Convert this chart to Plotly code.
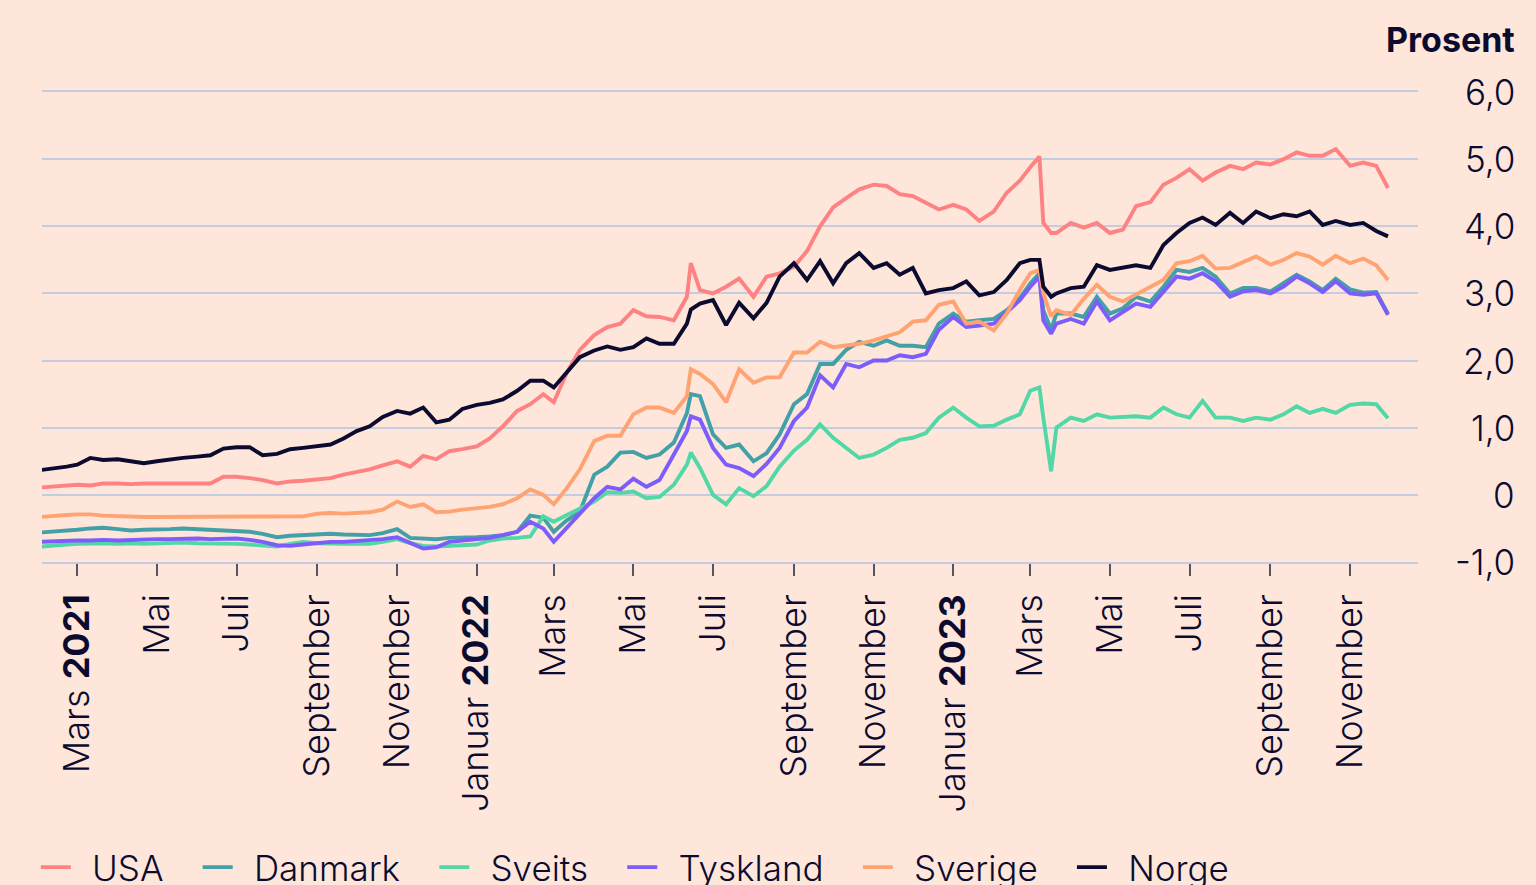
import plotly.graph_objects as go

dates = [
    "2021-02-01", "2021-02-11", "2021-02-21", "2021-03-01", "2021-03-11", "2021-03-21",
    "2021-04-01", "2021-04-11", "2021-04-21", "2021-05-01", "2021-05-11", "2021-05-21",
    "2021-06-01", "2021-06-11", "2021-06-21", "2021-07-01", "2021-07-11", "2021-07-21",
    "2021-08-01", "2021-08-11", "2021-08-21", "2021-09-01", "2021-09-11", "2021-09-21",
    "2021-10-01", "2021-10-11", "2021-10-21", "2021-11-01", "2021-11-11", "2021-11-21",
    "2021-12-01", "2021-12-11", "2021-12-21",
    "2022-01-01", "2022-01-11", "2022-01-21", "2022-02-01", "2022-02-11", "2022-02-21",
    "2022-03-01", "2022-03-11", "2022-03-21", "2022-04-01", "2022-04-11", "2022-04-21",
    "2022-05-01", "2022-05-11", "2022-05-21", "2022-06-01", "2022-06-11", "2022-06-14",
    "2022-06-21", "2022-07-01", "2022-07-11", "2022-07-21", "2022-08-01", "2022-08-11",
    "2022-08-21", "2022-09-01", "2022-09-11", "2022-09-21", "2022-10-01", "2022-10-11",
    "2022-10-21", "2022-11-01", "2022-11-11", "2022-11-21", "2022-12-01", "2022-12-11",
    "2022-12-21",
    "2023-01-01", "2023-01-11", "2023-01-21", "2023-02-01", "2023-02-11", "2023-02-21",
    "2023-03-01", "2023-03-08", "2023-03-11", "2023-03-17", "2023-03-21", "2023-04-01",
    "2023-04-11", "2023-04-21", "2023-05-01", "2023-05-11", "2023-05-21", "2023-06-01",
    "2023-06-11", "2023-06-21", "2023-07-01", "2023-07-11", "2023-07-21", "2023-08-01",
    "2023-08-11", "2023-08-21", "2023-09-01", "2023-09-11", "2023-09-21", "2023-10-01",
    "2023-10-11", "2023-10-21", "2023-11-01", "2023-11-11", "2023-11-21", "2023-11-30",
]

usa = [
    0.11, 0.12, 0.13, 0.15, 0.14, 0.17, 0.17, 0.16, 0.17, 0.17, 0.16, 0.17, 0.16, 0.17, 0.27,
    0.27, 0.25, 0.22, 0.17, 0.20, 0.21, 0.23, 0.25, 0.30, 0.34, 0.38, 0.44, 0.50, 0.42, 0.58,
    0.53, 0.65, 0.68,
    0.72, 0.84, 1.02, 1.25, 1.35, 1.50, 1.38, 1.82, 2.16, 2.38, 2.50, 2.55, 2.75, 2.66, 2.65,
    2.60, 2.95, 3.45, 3.05, 3.00, 3.10, 3.22, 2.95, 3.25, 3.30, 3.40, 3.63, 4.00, 4.28, 4.42,
    4.55, 4.62, 4.60, 4.48, 4.45, 4.35, 4.25,
    4.32, 4.25, 4.08, 4.22, 4.50, 4.68, 4.88, 5.04, 4.05, 3.90, 3.90, 4.05, 3.98, 4.05, 3.90,
    3.95, 4.30, 4.36, 4.62, 4.72, 4.85, 4.68, 4.80, 4.90, 4.85, 4.95, 4.92, 5.00, 5.10, 5.05,
    5.05, 5.15, 4.90, 4.95, 4.90, 4.57,
]

danmark = [
    -0.56, -0.55, -0.53, -0.52, -0.50, -0.49, -0.51, -0.53, -0.52, -0.52, -0.51, -0.50, -0.51,
    -0.52, -0.52, -0.53, -0.55, -0.58, -0.63, -0.61, -0.60, -0.59, -0.58, -0.59, -0.60, -0.60,
    -0.57, -0.51, -0.64, -0.65, -0.66, -0.64, -0.64,
    -0.63, -0.62, -0.60, -0.55, -0.31, -0.34, -0.55, -0.38, -0.25, 0.30, 0.42, 0.63, 0.64,
    0.55, 0.60, 0.78, 1.22, 1.50, 1.47, 0.90, 0.70, 0.75, 0.50, 0.62, 0.90, 1.35, 1.50, 1.95,
    1.95, 2.16, 2.28, 2.22, 2.30, 2.22, 2.22, 2.20, 2.55,
    2.70, 2.58, 2.60, 2.62, 2.75, 2.93, 3.15, 3.30, 2.75, 2.46, 2.70, 2.70, 2.65, 2.95, 2.70,
    2.78, 2.95, 2.88, 3.10, 3.35, 3.32, 3.38, 3.25, 3.00, 3.08, 3.08, 3.03, 3.15, 3.28, 3.18,
    3.05, 3.22, 3.06, 3.01, 3.02, 2.70,
]

sveits = [
    -0.77, -0.75, -0.74, -0.73, -0.72, -0.72, -0.73, -0.72, -0.73, -0.72, -0.72, -0.71, -0.72,
    -0.72, -0.73, -0.73, -0.74, -0.75, -0.77, -0.73, -0.70, -0.72, -0.73, -0.73, -0.73, -0.73,
    -0.70, -0.66, -0.72, -0.76, -0.77, -0.76, -0.76,
    -0.74, -0.68, -0.65, -0.64, -0.62, -0.32, -0.40, -0.30, -0.20, -0.10, 0.04, 0.03, 0.05,
    -0.05, -0.03, 0.15, 0.45, 0.63, 0.40, 0.00, -0.14, 0.10, -0.02, 0.13, 0.42, 0.66, 0.82,
    1.05, 0.85, 0.70, 0.55, 0.60, 0.70, 0.82, 0.85, 0.92, 1.15,
    1.30, 1.15, 1.02, 1.03, 1.12, 1.20, 1.55, 1.60, 1.15, 0.35, 1.00, 1.15, 1.10, 1.20, 1.15,
    1.16, 1.17, 1.15, 1.30, 1.20, 1.15, 1.40, 1.15, 1.15, 1.10, 1.15, 1.12, 1.20, 1.32, 1.22,
    1.28, 1.22, 1.34, 1.36, 1.35, 1.14,
]

tyskland = [
    -0.70, -0.69, -0.69, -0.68, -0.68, -0.67, -0.68, -0.67, -0.67, -0.66, -0.66, -0.65, -0.65,
    -0.66, -0.65, -0.65, -0.67, -0.70, -0.75, -0.76, -0.74, -0.72, -0.70, -0.70, -0.69, -0.68,
    -0.66, -0.63, -0.72, -0.80, -0.78, -0.70, -0.68,
    -0.66, -0.64, -0.60, -0.55, -0.40, -0.50, -0.70, -0.50, -0.28, -0.05, 0.12, 0.08, 0.24,
    0.12, 0.22, 0.60, 0.95, 1.17, 1.12, 0.70, 0.45, 0.40, 0.28, 0.46, 0.70, 1.10, 1.30, 1.78,
    1.60, 1.95, 1.90, 2.00, 2.00, 2.08, 2.05, 2.10, 2.46,
    2.65, 2.50, 2.52, 2.55, 2.72, 2.90, 3.10, 3.25, 2.60, 2.40, 2.55, 2.62, 2.55, 2.88, 2.60,
    2.72, 2.85, 2.80, 3.02, 3.25, 3.22, 3.30, 3.18, 2.95, 3.03, 3.05, 3.00, 3.10, 3.25, 3.15,
    3.02, 3.18, 3.00, 2.98, 3.00, 2.68,
]

sverige = [
    -0.33, -0.31, -0.30, -0.29, -0.29, -0.31, -0.32, -0.33, -0.33, -0.33, -0.33, -0.33, -0.33,
    -0.33, -0.33, -0.33, -0.33, -0.33, -0.33, -0.33, -0.32, -0.28, -0.27, -0.28, -0.27, -0.26,
    -0.22, -0.10, -0.18, -0.14, -0.26, -0.25, -0.22,
    -0.20, -0.18, -0.14, -0.05, 0.08, 0.00, -0.14, 0.10, 0.38, 0.80, 0.88, 0.88, 1.20, 1.30,
    1.30, 1.22, 1.47, 1.87, 1.80, 1.65, 1.38, 1.87, 1.67, 1.75, 1.75, 2.12, 2.12, 2.28, 2.20,
    2.22, 2.25, 2.30, 2.36, 2.42, 2.58, 2.60, 2.83,
    2.88, 2.55, 2.58, 2.45, 2.70, 3.05, 3.30, 3.35, 3.00, 2.66, 2.75, 2.68, 2.92, 3.13, 2.95,
    2.88, 2.98, 3.10, 3.20, 3.45, 3.48, 3.56, 3.37, 3.38, 3.47, 3.55, 3.43, 3.50, 3.60, 3.55,
    3.43, 3.56, 3.45, 3.52, 3.42, 3.20,
]

norge = [
    0.37, 0.39, 0.42, 0.45, 0.55, 0.52, 0.53, 0.50, 0.47, 0.50, 0.53, 0.55, 0.57, 0.59, 0.69,
    0.71, 0.71, 0.59, 0.61, 0.68, 0.70, 0.73, 0.75, 0.84, 0.95, 1.02, 1.16, 1.25, 1.21, 1.30,
    1.08, 1.12, 1.28,
    1.34, 1.37, 1.42, 1.55, 1.70, 1.70, 1.60, 1.82, 2.05, 2.15, 2.21, 2.16, 2.20, 2.33, 2.25,
    2.25, 2.55, 2.76, 2.85, 2.90, 2.53, 2.86, 2.63, 2.86, 3.25, 3.45, 3.20, 3.48, 3.15, 3.45,
    3.60, 3.38, 3.45, 3.28, 3.38, 3.00, 3.05,
    3.08, 3.18, 2.97, 3.02, 3.20, 3.45, 3.50, 3.50, 3.10, 2.95, 3.00, 3.08, 3.10, 3.42, 3.35,
    3.38, 3.42, 3.38, 3.72, 3.90, 4.05, 4.13, 4.02, 4.20, 4.05, 4.22, 4.12, 4.18, 4.15, 4.22,
    4.02, 4.08, 4.02, 4.05, 3.93, 3.85,
]

series_names = ["USA", "Danmark", "Sveits", "Tyskland", "Sverige", "Norge"]
series_values = [usa, danmark, sveits, tyskland, sverige, norge]
series_colors = ["#FF8282", "#43A0A6", "#52D8A6", "#7C5CFA", "#FFA373", "#0B0B30"]

x_tick_vals = [
    "2021-03-01", "2021-05-01", "2021-07-01", "2021-09-01", "2021-11-01",
    "2022-01-01", "2022-03-01", "2022-05-01", "2022-07-01", "2022-09-01", "2022-11-01",
    "2023-01-01", "2023-03-01", "2023-05-01", "2023-07-01", "2023-09-01", "2023-11-01",
]
x_tick_text = [
    "Mars <b>2021</b>", "Mai", "Juli", "September", "November",
    "Januar <b>2022</b>", "Mars", "Mai", "Juli", "September", "November",
    "Januar <b>2023</b>", "Mars", "Mai", "Juli", "September", "November",
]
y_tick_vals = [6, 5, 4, 3, 2, 1, 0, -1]
y_tick_text = ["6,0", "5,0", "4,0", "3,0", "2,0", "1,0", "0", "-1,0"]

BG = "#FEE6DA"
INK = "#0B0B30"
GRID = "#C6CCDF"
FONT = "Inter"
NB = "\u00a0"
TH = "\u2009"
HS = "\u200a"

fig = go.Figure()
for name, vals, col in zip(series_names, series_values, series_colors):
    fig.add_trace(go.Scatter(x=dates, y=vals, name=NB + TH + name + NB * 2 + TH + HS,
                             mode="lines", line=dict(color=col, width=3.9)))

for v, t in zip(y_tick_vals, y_tick_text):
    fig.add_annotation(x=1, xref="paper", xshift=99, y=v, yref="y", text=t,
                       showarrow=False, xanchor="right", yanchor="middle",
                       font=dict(family=FONT, size=35, color=INK, weight=300))

fig.add_annotation(x=1, xref="paper", xshift=99, y=1, yref="paper", yshift=53,
                   text="<b>Prosent</b>", showarrow=False, xanchor="right",
                   yanchor="middle", font=dict(family=FONT, size=34, color=INK))

fig.update_layout(
    width=1536, height=885,
    paper_bgcolor=BG, plot_bgcolor=BG,
    margin=dict(l=42, r=118, t=92, b=323, autoexpand=False),
    font=dict(family=FONT, color=INK, size=32, weight=300),
    showlegend=True,
    legend=dict(orientation="h", x=-0.0045, xanchor="left", y=-0.587, yanchor="top",
                bgcolor="rgba(0,0,0,0)", font=dict(family=FONT, size=35, color=INK, weight=300),
                itemwidth=30, tracegroupgap=0),
)
fig.update_xaxes(
    type="date", range=["2021-02-02", "2023-12-23"], automargin=False,
    tickmode="array", tickvals=x_tick_vals, ticktext=x_tick_text, tickangle=-90,
    ticks="outside", ticklen=12, tickcolor="#55556A", tickwidth=1.5,
    tickfont=dict(family=FONT, size=36, color=INK, weight=300),
    showgrid=False, zeroline=False, showline=True, mirror=True,
    linecolor=GRID, linewidth=1.5, ticklabelstandoff=4,
)
fig.update_yaxes(
    range=[-1, 6], tickmode="array", tickvals=y_tick_vals, showticklabels=False,
    showgrid=True, gridcolor=GRID, gridwidth=1.5, zeroline=False, showline=False,
    side="right", ticks="", automargin=False,
)

fig.write_html("out.html", config={"displayModeBar": False},
               post_script="document.body.style.margin='0';document.body.style.padding='0';")
